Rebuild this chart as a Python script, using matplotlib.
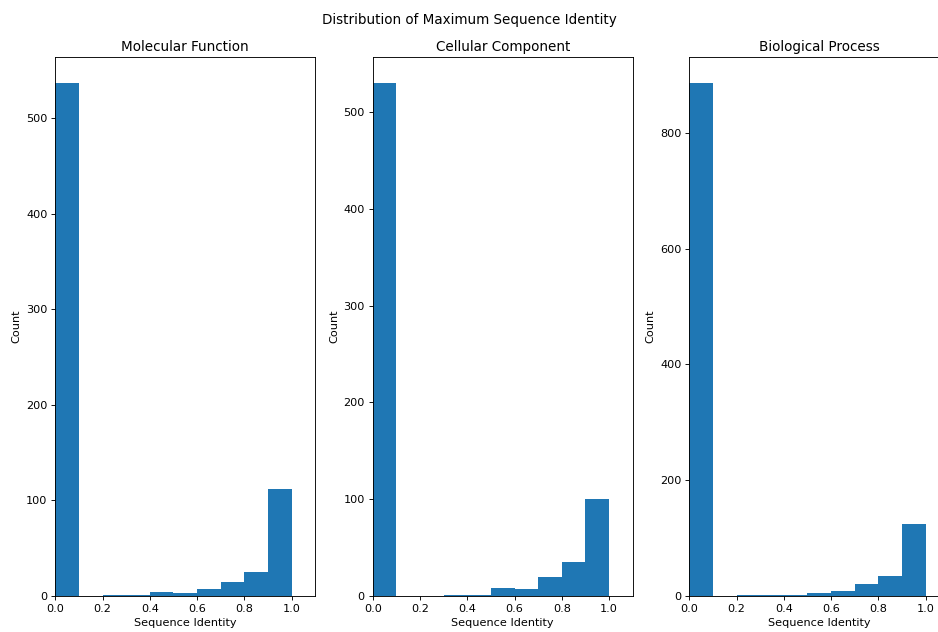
import matplotlib.pyplot as plt
import numpy as np

# bin edges shared by all three histograms
bin_edges = [0.0, 0.1, 0.2, 0.3, 0.4, 0.5, 0.6, 0.7, 0.8, 0.9, 1.0]

# counts per bin
mf_counts = [537, 0, 1, 1, 4, 3, 7, 15, 25, 112]
cc_counts = [530, 0, 0, 1, 1, 8, 7, 20, 35, 100]
bp_counts = [886, 0, 2, 1, 2, 5, 8, 20, 34, 124]

titles = ["Molecular Function", "Cellular Component", "Biological Process"]
all_counts = [mf_counts, cc_counts, bp_counts]

# reference looks like a downscaled render, so use a lower dpi
dpi = 81
fig, axes = plt.subplots(1, 3, figsize=(938 / dpi, 632 / dpi), dpi=dpi)
fig.suptitle("Distribution of Maximum Sequence Identity", y=0.98)

# axes positions (the last one runs off the right edge, as in the reference)
lefts = [55.3 / 938, 372.7 / 938, 689.3 / 938]
for ax, left, title, counts in zip(axes, lefts, titles, all_counts):
    ax.set_position([left, 1 - 596 / 632, 260 / 938, (596 - 57.3) / 632])
    ax.hist(bin_edges[:-1], bins=bin_edges, weights=counts, color="#1f77b4")
    ax.set_xlim(0, 1.1)
    ax.set_title(title)
    ax.set_xlabel("Sequence Identity")
    ax.set_ylabel("Count")

fig.savefig("out.png", dpi=dpi)
